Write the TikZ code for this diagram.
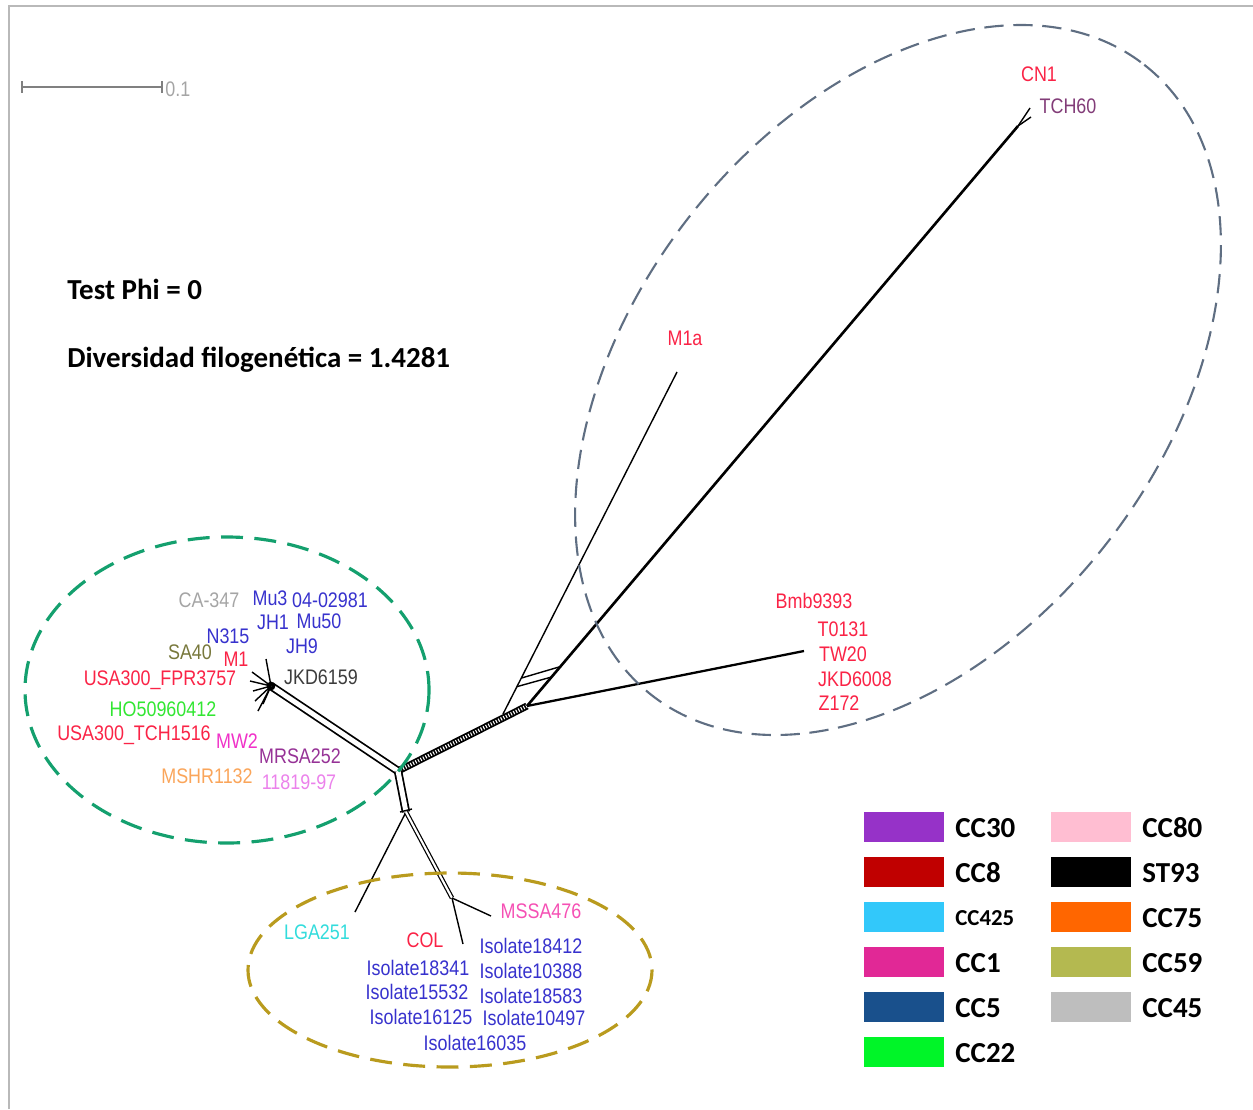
\documentclass[tikz,border=0pt]{standalone}
\usepackage{fontspec}
\setmainfont{Carlito}
\newfontfamily\lblfont[FakeStretch=0.85]{Liberation Sans}
\usetikzlibrary{calc}

% colores de las etiquetas
\definecolor{taxred}{RGB}{250,35,70}
\definecolor{taxblue}{RGB}{55,50,205}
\definecolor{taxgray}{RGB}{165,165,165}
\definecolor{taxolive}{RGB}{120,120,60}
\definecolor{taxdark}{RGB}{60,60,60}
\definecolor{taxgreen}{RGB}{50,230,50}
\definecolor{taxmag}{RGB}{240,50,200}
\definecolor{taxpurple}{RGB}{150,50,150}
\definecolor{taxorange}{RGB}{250,165,90}
\definecolor{taxlilac}{RGB}{235,130,235}
\definecolor{taxpink}{RGB}{245,80,180}
\definecolor{taxcyan}{RGB}{50,220,220}
\definecolor{taxplum}{RGB}{130,60,120}
% colores de la leyenda
\definecolor{cc30}{RGB}{150,50,200}
\definecolor{cc8}{RGB}{192,0,0}
\definecolor{cc425}{RGB}{50,200,250}
\definecolor{cc1}{RGB}{225,40,150}
\definecolor{cc5}{RGB}{25,80,140}
\definecolor{cc22}{RGB}{0,245,40}
\definecolor{cc80}{RGB}{255,190,210}
\definecolor{cc75}{RGB}{255,102,0}
\definecolor{cc59}{RGB}{180,185,80}
\definecolor{cc45}{RGB}{190,190,190}
% anillos
\definecolor{grayring}{RGB}{95,110,130}
\definecolor{greenring}{RGB}{20,160,110}
\definecolor{goldring}{RGB}{185,155,30}
\definecolor{framegray}{RGB}{185,185,185}

\tikzset{
  lbl/.style={font=\lblfont\fontsize{12}{14}\selectfont, inner sep=0pt},
  info/.style={font=\bfseries\fontsize{16.5}{20}\selectfont, anchor=west, inner sep=0pt},
  key/.style={font=\bfseries\fontsize{16.5}{20}\selectfont, anchor=west, inner sep=0pt},
  swatch/.style={minimum width=1.6cm, minimum height=0.6cm, inner sep=0pt},
  branch/.style={line width=0.8pt},
  heavy/.style={line width=1.5pt},
  twin/.style={double, double distance=2.8pt, line width=1pt},
  ring/.style={dash pattern=on 11pt off 5.5pt, line width=1.2pt},
  ringthick/.style={dash pattern=on 12.5pt off 6.5pt, line width=1.8pt}
}

\begin{document}
\begin{tikzpicture}[x=0.02cm, y=-0.02cm]
  \useasboundingbox (0,0) rectangle (1253,1109);
  % marco
  \draw[framegray, line width=1.4pt] (9,1109) -- (9,6) -- (1253,6);
  % barra de escala
  \coordinate (E1) at (22,87);
  \coordinate (E2) at (162,87);
  \draw[gray, line width=0.7pt] (E1) -- (E2);
  \draw[gray, line width=0.7pt] ($(E1)+(0,-6)$) -- ($(E1)+(0,6)$);
  \draw[gray, line width=0.7pt] ($(E2)+(0,-6)$) -- ($(E2)+(0,6)$);
  \node[lbl, text=taxgray, anchor=west] (escala) at (165,89) {0.1};
  % textos
  \node[info] (phi) at (67,289) {Test Phi = 0};
  \node[info] (dfg) at (67,360) {Diversidad filogenética = 1.4281};

  % red de divisiones
  \coordinate (H) at (398,771);
  \coordinate (L) at (271,686);
  \coordinate (R) at (527,706);
  \coordinate (A0) at (503,714);
  \coordinate (M) at (677,372);
  \coordinate (C) at (1018,126);
  \coordinate (C1) at (1030,108);
  \coordinate (C2) at (1031,117);
  \coordinate (B) at (804,651);
  \coordinate (D1) at (406,812);
  \coordinate (G) at (355,912);
  \coordinate (D2) at (452,898);
  \coordinate (S) at (491,916);
  \coordinate (K) at (463,944);
  \coordinate (L1) at (266,659);
  \coordinate (L2) at (252,672);
  \coordinate (L3) at (250,681);
  \coordinate (L4) at (253,691);
  \coordinate (L5) at (255,701);
  \coordinate (L6) at (258,711);
  \coordinate (L7) at (263,704);
  \draw[line width=4pt] (H) -- (R);
  \draw[white, line width=2pt, dash pattern=on 0.6pt off 1pt] (H) -- (R);
  \draw[twin] (H) -- (L);
  \draw[twin] (H) -- (D1);
  \draw[branch] ($(D1)+(-6,0)$) -- ($(D1)+(6,-3)$);
  \draw[branch] (D1) -- (G);
  \draw[twin, double distance=1.2pt, line width=0.7pt] (D1) -- (D2);
  \draw[branch] (D2) -- (S);
  \draw[branch] (D2) -- (K);
  \draw[branch] (L) -- (L1) (L) -- (L2) (L) -- (L3) (L) -- (L4)
    (L) -- (L5) (L) -- (L6) (L) -- (L7);
  \draw[line width=2pt] (L) circle (2.5);
  \draw[branch] (A0) -- (M);
  \draw[heavy] (R) -- (C);
  \draw[branch] (C) -- (C1);
  \draw[branch] (C) -- (C2);
  \draw[branch] ($(A0)!0.08!(M)$) -- ($(R)!0.05!(C)$);
  \draw[branch] ($(A0)!0.105!(M)$) -- ($(R)!0.068!(C)$);
  \draw[line width=1.3pt] (R) -- (B);

  % anillos
  \draw[ring, grayring, rotate around={52:(898,380)}] (898,380) ellipse (400 and 265);
  \draw[ringthick, greenring] (227,690) ellipse (202 and 153);
  \draw[ringthick, goldring] (450,970) ellipse (202 and 97);

  % grupo izquierdo
  \node[lbl, text=taxgray] (ca347) at (209,600) {CA-347};
  \node[lbl, text=taxblue] (mu3) at (270,598) {Mu3};
  \node[lbl, text=taxblue] (n0402981) at (330,600) {04-02981};
  \node[lbl, text=taxblue] (jh1) at (273,622) {JH1};
  \node[lbl, text=taxblue] (mu50) at (319,621) {Mu50};
  \node[lbl, text=taxblue] (n315) at (228,636) {N315};
  \node[lbl, text=taxblue] (jh9) at (302,646) {JH9};
  \node[lbl, text=taxolive] (sa40) at (190,652) {SA40};
  \node[lbl, text=taxred] (m1) at (236,659) {M1};
  \node[lbl, text=taxdark] (jkd6159) at (321,677) {JKD6159};
  \node[lbl, text=taxred] (fpr) at (160,680) {USA300\_FPR3757};
  \node[lbl, text=taxgreen] (ho50) at (163,709) {HO50960412};
  \node[lbl, text=taxred] (tch1516) at (134,735) {USA300\_TCH1516};
  \node[lbl, text=taxmag] (mw2) at (237,741) {MW2};
  \node[lbl, text=taxpurple] (mrsa252) at (300,756) {MRSA252};
  \node[lbl, text=taxorange] (mshr) at (207,776) {MSHR1132};
  \node[lbl, text=taxlilac] (n1181997) at (299,782) {11819-97};

  % grupo inferior
  \node[lbl, text=taxpink] (mssa476) at (541,911) {MSSA476};
  \node[lbl, text=taxcyan] (lga251) at (317,932) {LGA251};
  \node[lbl, text=taxred] (col) at (425,940) {COL};
  \node[lbl, text=taxblue] (i18412) at (531,946) {Isolate18412};
  \node[lbl, text=taxblue] (i18341) at (418,968) {Isolate18341};
  \node[lbl, text=taxblue] (i10388) at (531,971) {Isolate10388};
  \node[lbl, text=taxblue] (i15532) at (417,992) {Isolate15532};
  \node[lbl, text=taxblue] (i18583) at (531,996) {Isolate18583};
  \node[lbl, text=taxblue] (i16125) at (421,1017) {Isolate16125};
  \node[lbl, text=taxblue] (i10497) at (534,1018) {Isolate10497};
  \node[lbl, text=taxblue] (i16035) at (475,1043) {Isolate16035};

  % grupo derecho
  \node[lbl, text=taxred] (bmb) at (814,601) {Bmb9393};
  \node[lbl, text=taxred] (t0131) at (843,629) {T0131};
  \node[lbl, text=taxred] (tw20) at (843,654) {TW20};
  \node[lbl, text=taxred] (jkd6008) at (855,679) {JKD6008};
  \node[lbl, text=taxred] (z172) at (839,703) {Z172};
  \node[lbl, text=taxred] (m1a) at (685,338) {M1a};
  \node[lbl, text=taxred] (cn1) at (1039,74) {CN1};
  \node[lbl, text=taxplum] (tch60) at (1068,106) {TCH60};

  % leyenda
  \node[swatch, fill=cc30] (s30) at (904,827) {};
  \node[swatch, fill=cc8] (s8) at (904,872) {};
  \node[swatch, fill=cc425] (s425) at (904,917) {};
  \node[swatch, fill=cc1] (s1) at (904,962) {};
  \node[swatch, fill=cc5] (s5) at (904,1007) {};
  \node[swatch, fill=cc22] (s22) at (904,1052) {};
  \node[swatch, fill=cc80] (s80) at (1091,827) {};
  \node[swatch, fill=black] (s93) at (1091,872) {};
  \node[swatch, fill=cc75] (s75) at (1091,917) {};
  \node[swatch, fill=cc59] (s59) at (1091,962) {};
  \node[swatch, fill=cc45] (s45) at (1091,1007) {};
  \node[key] (k30) at (955,828) {CC30};
  \node[key] (k8) at (955,873) {CC8};
  \node[key, font=\bfseries\fontsize{13}{15}\selectfont] (k425) at (955,918) {CC425};
  \node[key] (k1) at (955,963) {CC1};
  \node[key] (k5) at (955,1008) {CC5};
  \node[key] (k22) at (955,1053) {CC22};
  \node[key] (k80) at (1142,828) {CC80};
  \node[key] (k93) at (1142,873) {ST93};
  \node[key] (k75) at (1142,918) {CC75};
  \node[key] (k59) at (1142,963) {CC59};
  \node[key] (k45) at (1142,1008) {CC45};
\end{tikzpicture}
\end{document}
